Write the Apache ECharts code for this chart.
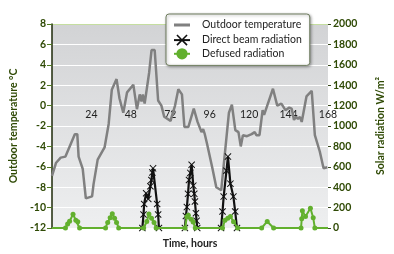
<!DOCTYPE html>
<html>
<head>
<meta charset="utf-8">
<script src="https://cdn.jsdelivr.net/npm/echarts@6/dist/echarts.min.js"></script>
<style>html,body{margin:0;padding:0;background:#fff}#c{width:394px;height:254px}</style>
</head>
<body>
<div id="c"></div>
<script>
// Outdoor temperature (hours, °C)
const tempHours = [0,2.5,5.3,8.2,13.9,15.4,16.2,18.7,20.6,24.4,25.3,26.3,27.8,32,34.5,36.4,39.3,41.1,43.4,45.7,49.5,51.7,53.4,54.5,55.3,56.4,59.1,60.6,62.5,64.6,66.6,68.3,72.2,73,74.9,76.9,79.1,80.6,83,86.3,88.6,91,92,93,94.3,97.7,100,103,107.7,109.5,111.6,113.5,114.9,116.2,118.7,121.5,123.4,124.4,126.3,128.2,129.1,131,134.5,137.1,139.6,142.1,144.4,145.9,147.3,148.6,149.7,150.9,152,154.9,158.1,160,163,165.3,167.6];
const tempValues = [-6.9,-5.6,-5.1,-5.0,-2.8,-2.8,-5.0,-6.2,-9.1,-8.9,-7.7,-7.6,-5.3,-4.1,-1.8,1.55,2.6,0.7,-0.7,1.3,2.05,-0.35,1.1,0.4,1.1,0.2,3.2,5.45,5.45,0.5,0.0,-1.1,-1.5,-1.0,0.0,1.6,1.1,-2.1,-2.1,-0.3,-1.6,-2.6,-2.3,-2.8,-3.7,-6.2,-8.0,-8.3,-0.7,0.1,-2.4,-2.6,-4.0,-2.9,-3.0,-2.8,-2.6,-2.9,-2.9,-0.45,-0.9,0.0,1.65,0.0,0.2,-0.45,-0.2,-0.3,-1.4,-1.1,-1.3,-1.1,-1.6,0.9,1.45,-2.9,-4.5,-6.15,-6.05];

// Direct beam radiation (hours, W/m2)
const beamHours = [55,55.7,56.1,57.3,58.6,59.9,60.5,61.1,61.5,64.0,64.6,65.1,null,80.9,81.5,82.1,82.8,83.4,84.2,85.0,86.0,86.6,87.0,87.6,88.0,88.4,null,102.9,103.8,104.5,106.2,107.1,108.6,110.4,111.5,112.6];
const beamValues = [0,133,235,340,285,410,470,545,585,235,133,0,null,0,117,205,335,470,540,620,415,335,260,145,70,0,null,0,162,308,562,700,435,308,162,0];

// Diffuse radiation (hours, W/m2)
const diffHours = [0,8.2,9.5,10.7,12.8,14.5,15.7,16.8,32.6,33.9,35.4,36.7,38.1,39.3,40.6,55.8,57.7,59,60.6,62.1,63.4,81,82.1,83,84.7,85.9,87.2,103.8,105.3,107,108.6,110.5,113,127.6,131,134.9,151.6,152,152.4,154.3,157.3,159,160,168];
const diffValues = [0,0,40,65,135,76,62,0,0,55,100,140,95,55,0,0,64,138,95,55,0,0,110,124,86,60,0,0,76,95,112,62,0,0,64,0,0,90,168,112,193,100,0,0];

const xTicks = [0,24,48,72,96,120,144,168];
const tempTicks = [-12,8,2];
const solarTicks = [0,2000,200];

const olive = '#2f4a05';
const font = 'Lato';

const tempData = tempHours.map((h,i)=>[h,tempValues[i]]);
const beamData = beamHours.map((h,i)=> h===null ? [null,null] : [h,beamValues[i]]);
const diffData = diffHours.map((h,i)=>{
  const last = i===0 || i===diffHours.length-1;
  return last ? {value:[h,diffValues[i]], symbol:'none'} : [h,diffValues[i]];
});

const xShape = 'path://M0,1L1,0L5,4L9,0L10,1L6,5L10,9L9,10L5,6L1,10L0,9L4,5Z';
const barIcon = 'path://M0,0L16,0L16,0.01L0,0.01Z M0,5.5L16,5.5L16,8.5L0,8.5Z M0,13.99L16,13.99L16,14L0,14Z';

// plot height 210px, temperature range -12..8 => zero line sits 126px above the bottom
const zeroOffset = -210 * (0 - tempTicks[0]) / (tempTicks[1] - tempTicks[0]);

const chart = echarts.init(document.getElementById('c'), null, {renderer:'canvas'});
chart.setOption({
  animation:false,
  textStyle:{fontFamily:font},
  grid:{left:34,right:65,top:24,bottom:20,show:true,borderWidth:0,
    backgroundColor:new echarts.graphic.LinearGradient(0,0,0,1,[{offset:0,color:'#d2d3d5'},{offset:1,color:'#eeeff0'}])},
  legend:{
    orient:'vertical',left:166,top:14,
    padding:[4,8,6,7],itemGap:2.5,itemWidth:16,itemHeight:14,
    backgroundColor:'#fff',borderColor:'#6e7d5e',borderWidth:1,borderRadius:3,
    shadowBlur:3,shadowColor:'rgba(0,0,0,0.35)',shadowOffsetX:1,shadowOffsetY:1,
    textStyle:{fontSize:10.5,color:'#222',fontFamily:font,padding:[0,0,0,7]},
    data:[{name:'Outdoor temperature',icon:barIcon},'Direct beam radiation','Defused radiation']
  },
  xAxis:[{
    type:'value',min:xTicks[0],max:xTicks[xTicks.length-1],interval:24,
    position:'bottom',offset:zeroOffset,
    axisLine:{show:false,onZero:false},axisTick:{show:false},splitLine:{show:false},
    axisLabel:{margin:7,fontSize:10.5,color:'#222',fontFamily:font,
      formatter:v=> v===0 ? '' : String(v)}
  },{
    type:'value',min:xTicks[0],max:xTicks[xTicks.length-1],position:'bottom',
    axisLine:{show:false,onZero:false},axisTick:{show:false},axisLabel:{show:false},splitLine:{show:false},
    name:'Time, hours',nameLocation:'middle',nameGap:10,
    nameTextStyle:{fontSize:10.5,fontWeight:'bold',color:'#222',fontFamily:font}
  }],
  yAxis:[{
    type:'value',min:tempTicks[0],max:tempTicks[1],interval:tempTicks[2],
    name:'Outdoor temperature °C',nameLocation:'middle',nameGap:24,
    nameTextStyle:{fontSize:10.5,fontWeight:'bold',color:olive,fontFamily:font},
    axisLine:{show:true,onZero:false,lineStyle:{color:'#1e2a0a',width:1.5}},
    axisTick:{show:true,length:5,lineStyle:{color:'#4e7a1e'}},
    axisLabel:{margin:6,fontSize:10.5,fontWeight:'bold',color:olive,fontFamily:font},
    splitLine:{show:true,lineStyle:{color:['#ffffff','#ffffff','#ffffff','#ffffff','#ffffff','#ffffff','#ffffff','#ffffff','#ffffff','#ffffff','#c5dea0'],width:1.2}}
  },{
    type:'value',min:solarTicks[0],max:solarTicks[1],interval:solarTicks[2],position:'right',
    name:'Solar radiation W/m²',nameLocation:'middle',nameGap:47,nameRotate:90,
    nameTextStyle:{fontSize:10.5,fontWeight:'bold',color:olive,fontFamily:font},
    axisLine:{show:false,onZero:false},
    axisTick:{show:true,length:3,lineStyle:{color:'#3a4a20'}},
    axisLabel:{margin:5,fontSize:10.5,fontWeight:'bold',color:olive,fontFamily:font,formatter:v=>String(v)},
    splitLine:{show:false}
  }],
  series:[{
    name:'Outdoor temperature',type:'line',xAxisIndex:0,yAxisIndex:0,
    data:tempData,showSymbol:false,symbol:'none',
    lineStyle:{color:'#808080',width:2.5},itemStyle:{color:'#808080'},z:3
  },{
    name:'Direct beam radiation',type:'line',xAxisIndex:0,yAxisIndex:1,
    data:beamData,connectNulls:false,symbol:xShape,symbolSize:7,showSymbol:true,
    lineStyle:{color:'#111',width:2.2},itemStyle:{color:'#111'},z:4
  },{
    name:'Defused radiation',type:'line',xAxisIndex:0,yAxisIndex:1,
    data:diffData,symbol:'circle',symbolSize:5,showSymbol:true,
    lineStyle:{color:'#62b02e',width:2},itemStyle:{color:'#62b02e'},z:5
  }]
});
</script>
</body>
</html>
